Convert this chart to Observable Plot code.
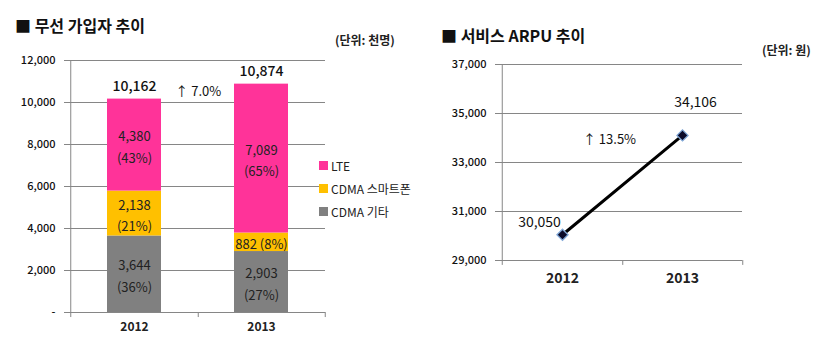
<!DOCTYPE html>
<html><head><meta charset="utf-8">
<script src="https://cdn.jsdelivr.net/npm/d3@7"></script>
<script src="https://cdn.jsdelivr.net/npm/@observablehq/plot@0.6"></script>
<style>
body{margin:0;background:#fff;font-family:"Noto Sans CJK KR","Noto Sans",sans-serif;}
#wrap{position:relative;width:824px;height:343px;overflow:hidden;}
.abs{position:absolute;}
.title{font-size:16px;font-weight:bold;color:#111;white-space:nowrap;}
.unit{font-size:12px;font-weight:bold;color:#222;white-space:nowrap;}
.leg{font-size:12px;color:#222;white-space:nowrap;display:flex;align-items:center;height:16px;}
.leg span.sw{display:inline-block;width:9px;height:9px;margin-right:3px;}
</style></head>
<body><div id="wrap"></div>
<script>
// ---- data ----
const years = ["2012", "2013"];
const seriesNames = ["CDMA 기타", "CDMA 스마트폰", "LTE"]; // bottom -> top
const cdmaOther = [3644, 2903];
const cdmaSmart = [2138, 882];
const lte = [4380, 7089];
const cdmaOtherPct = ["36%", "27%"];
const cdmaSmartPct = ["21%", "8%"];
const ltePct = ["43%", "65%"];
const totals = [10162, 10874];
const subsGrowth = "↑ 7.0%";
const subsTicks = [0, 2000, 4000, 6000, 8000, 10000, 12000];
const arpu = [30050, 34106];
const arpuGrowth = "↑ 13.5%";
const arpuTicks = [29000, 31000, 33000, 35000, 37000];
const colors = ["#808080", "#FFC000", "#FF3399"];
const legendOrder = ["LTE", "CDMA 스마트폰", "CDMA 기타"];

const fmt = d3.format(",");
const seriesVals = [cdmaOther, cdmaSmart, lte];
const seriesPcts = [cdmaOtherPct, cdmaSmartPct, ltePct];
const rows = [];
years.forEach((y, i) => seriesNames.forEach((s, j) => {
  const v = seriesVals[j][i];
  rows.push({year: y, series: s, value: v,
    label: fmt(v) + (v < 1500 ? " " : "\n") + "(" + seriesPcts[j][i] + ")"});
}));
const totalRows = years.map((y, i) => ({year: y, total: totals[i]}));
const arpuRows = years.map((y, i) => ({year: y, value: arpu[i]}));

const wrap = document.getElementById("wrap");
const font = '"Noto Sans CJK KR","Noto Sans",sans-serif';

// ---- left chart ----
const L = {w: 420, h: 343, ml: 70, mr: 95, mt: 60, mb: 31};
const stepL = (L.w - L.ml - L.mr) / 2;
const left = Plot.plot({
  width: L.w, height: L.h,
  marginLeft: L.ml, marginRight: L.mr, marginTop: L.mt, marginBottom: L.mb,
  style: {fontFamily: font, background: "transparent", overflow: "visible"},
  x: {domain: years, paddingInner: 0.576, paddingOuter: 0.288, axis: null},
  y: {domain: [0, 12000], axis: null},
  color: {domain: seriesNames, range: colors},
  marks: [
    Plot.ruleY(subsTicks, {stroke: "#868686", strokeWidth: 1}),
    Plot.ruleX([years[0]], {x: d => d, dx: -stepL / 2, y1: 12000, y2: -240, stroke: "#868686"}),
    Plot.ruleX(years, {x: d => d, dx: stepL / 2, y1: 0, y2: -240, stroke: "#868686"}),
    Plot.axisY({ticks: subsTicks, tickSize: 6, tickPadding: 9, stroke: "#868686", label: null,
      tickFormat: d => d === 0 ? "-" : fmt(d), fontSize: 11, fontWeight: 500, fill: "#111"}),
    Plot.axisX({tickSize: 0, tickPadding: 10, label: null, fontSize: 12, fontWeight: "bold", fill: "#222"}),
    Plot.barY(rows, {x: "year", y: "value", fill: "series"}),
    Plot.text(rows, Plot.stackY({x: "year", y: "value", text: "label",
      fontSize: 13, lineHeight: 1.65, fill: "#222"})),
    Plot.text(totalRows, {x: "year", y: "total", text: d => fmt(d.total), dy: -13, fontSize: 14, fontWeight: 500, fill: "#111"}),
    Plot.text([subsGrowth], {x: () => years[0], y: () => d3.mean(totals), text: d => d,
      dx: stepL / 2, fontSize: 13, fill: "#111"})
  ]
});
left.classList.add("abs");
left.style.left = "0px"; left.style.top = "0px";
wrap.appendChild(left);

// ---- right chart ----
const R = {x: 420, w: 404, h: 343, ml: 81, mr: 82, mt: 64, mb: 83};
const stepR = (R.w - R.ml - R.mr) / 2;
const right = Plot.plot({
  width: R.w, height: R.h,
  marginLeft: R.ml, marginRight: R.mr, marginTop: R.mt, marginBottom: R.mb,
  style: {fontFamily: font, background: "transparent", overflow: "visible"},
  x: {type: "point", domain: years, padding: 0.5, axis: null},
  y: {domain: [29000, 37000], axis: null},
  marks: [
    Plot.ruleY(arpuTicks, {stroke: "#868686", strokeWidth: 1}),
    Plot.ruleX([years[0]], {x: d => d, dx: -stepR / 2, y1: 37000, y2: 28800, stroke: "#868686"}),
    Plot.ruleX(years, {x: d => d, dx: stepR / 2, y1: 29000, y2: 28800, stroke: "#868686"}),
    Plot.axisY({ticks: arpuTicks, tickSize: 6, tickPadding: 9, stroke: "#868686", label: null,
      tickFormat: fmt, fontSize: 11, fontWeight: 500, fill: "#111"}),
    Plot.axisX({tickSize: 0, tickPadding: 13, label: null, fontSize: 14, fontWeight: "bold", fill: "#222"}),
    Plot.line(arpuRows, {x: "year", y: "value", stroke: "#000", strokeWidth: 3}),
    Plot.dot(arpuRows, {x: "year", y: "value", symbol: "diamond2", r: 5,
      fill: "#0b0b2a", stroke: "#7fa6d6", strokeWidth: 1.3}),
    Plot.text([arpuRows[0]], {x: "year", y: "value", text: d => fmt(d.value), dx: -23, dy: -12, fontSize: 14, fill: "#111"}),
    Plot.text([arpuRows[1]], {x: "year", y: "value", text: d => fmt(d.value), dx: 13, dy: -33, fontSize: 14, fill: "#111"}),
    Plot.text([arpuGrowth], {x: () => years[1], y: () => arpu[1], text: d => d,
      dx: -73, dy: 4, fontSize: 13, fill: "#111"})
  ]
});
right.classList.add("abs");
right.style.left = R.x + "px"; right.style.top = "0px";
wrap.appendChild(right);

// ---- titles, units, legend ----
function addDiv(cls, text, x, y) {
  const d = document.createElement("div");
  d.className = "abs " + cls; d.textContent = text;
  d.style.left = x + "px"; d.style.top = y + "px";
  wrap.appendChild(d); return d;
}
addDiv("title", "■ 무선 가입자 추이", 15, 13);
addDiv("unit", "(단위: 천명)", 335, 31);
addDiv("title", "■ 서비스 ARPU 추이", 441, 23);
addDiv("unit", "(단위: 원)", 762, 41);

legendOrder.forEach((name, i) => {
  const d = document.createElement("div");
  d.className = "abs leg";
  d.style.left = "319px"; d.style.top = (157 + i * 23) + "px";
  const sw = document.createElement("span");
  sw.className = "sw"; sw.style.background = colors[seriesNames.indexOf(name)];
  d.appendChild(sw);
  d.appendChild(document.createTextNode(name));
  wrap.appendChild(d);
});
</script>
</body></html>
